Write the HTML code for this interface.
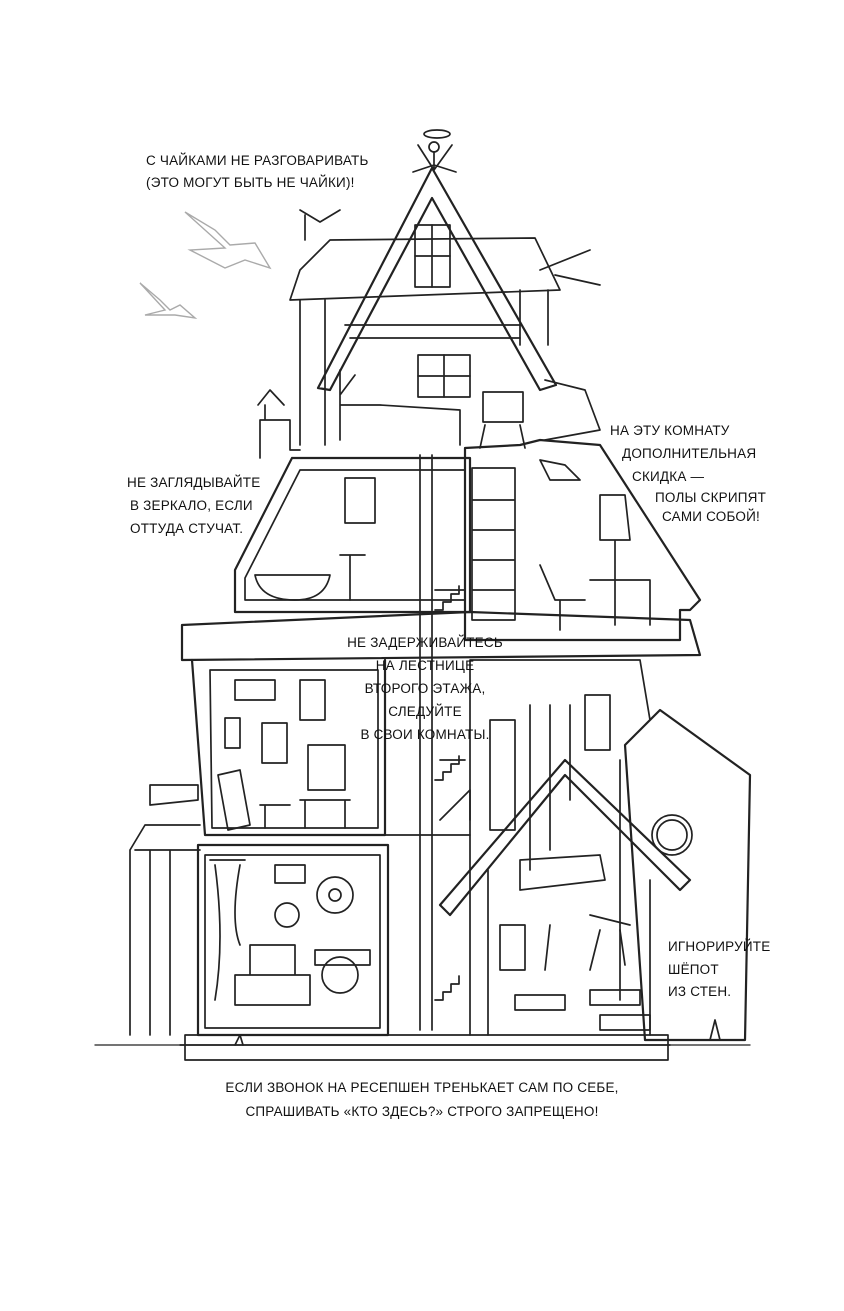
<!DOCTYPE html>
<html><head><meta charset="utf-8"><style>
html,body{margin:0;padding:0;background:#fff;}
svg{display:block}
text{font-family:"Liberation Sans",sans-serif;font-size:13.5px;fill:#111;letter-spacing:0.2px}
</style></head><body>
<svg width="844" height="1311" viewBox="0 0 844 1311" xmlns="http://www.w3.org/2000/svg">
<rect width="844" height="1311" fill="#fff"/>
<g fill="none" stroke="#222" stroke-width="1.7" stroke-linejoin="round" stroke-linecap="round">
<ellipse cx="437" cy="134" rx="13" ry="4"/><circle cx="434" cy="147" r="5"/>
<path d="M434 152 V170 M418 145 L434 170 L452 145 M413 172 L434 165 L456 172"/>
<path d="M330 240 L535 238 L560 290 L290 300 L300 270 Z"/>
<path d="M300 300 V445 M325 300 V445 M520 290 V345 M548 290 V345"/>
<path d="M305 215 V240 M300 210 L320 222 L340 210"/>
<path d="M540 270 L590 250 M555 275 L600 285"/>
<path d="M432 168 L318 388 L330 390 L432 198 L540 390 L556 385 Z" stroke-width="2.2"/>
<rect x="415" y="225" width="35" height="62"/><path d="M432 225 V287 M415 256 H450"/>
<path d="M345 325 H520 M350 338 H520"/>
<rect x="418" y="355" width="52" height="42"/><path d="M444 355 V397 M418 376 H470"/>
<rect x="483" y="392" width="40" height="30"/><path d="M485 425 L480 448 M520 425 L525 448"/>
<path d="M340 370 V440 M340 405 H380 L460 410 V445 M340 395 L355 375"/>
<path d="M545 380 L585 390 L600 430 L545 440"/>
<path d="M258 405 L270 390 L284 405 M265 405 V420 M260 420 H290 V450 H300 M260 420 V458"/>
<path d="M292 458 H470 V612 H235 V570 L292 458" stroke-width="2.2"/>
<path d="M300 470 H465 V600 H245 V578 Z"/>
<rect x="345" y="478" width="30" height="45"/>
<path d="M255 575 H330 Q325 600 295 600 Q260 600 255 575 M340 555 H365 M350 555 V600"/>
<path d="M465 448 L520 445 L540 440 L600 445 L700 600 L690 610 H680 V640 H465 Z" stroke-width="2.2"/>
<path d="M472 468 H515 V620 H472 Z M472 500 H515 M472 530 H515 M472 560 H515 M472 590 H515"/>
<path d="M540 460 L565 465 L580 480 H550 Z M600 495 H625 L630 540 H600 Z M615 540 V625 M590 580 H650 V625 M540 565 L555 600 H585 M560 600 V630"/>
<path d="M182 625 L470 612 L690 620 L700 655 L182 660 Z" stroke-width="2.2"/>
<path d="M192 660 L205 835 H385 V660" stroke-width="2.2"/>
<path d="M210 670 H378 V828 H212 Z"/>
<rect x="235" y="680" width="40" height="20"/><rect x="300" y="680" width="25" height="40"/><rect x="262" y="723" width="25" height="40"/><rect x="225" y="718" width="15" height="30"/>
<path d="M308 745 H345 V790 H308 Z M300 800 H350 M305 800 V828 M345 800 V828 M260 805 H290 M265 805 V828"/>
<path d="M218 775 L240 770 L250 825 L228 830 Z"/>
<path d="M420 455 V1030 M432 455 V1030"/>
<path d="M435 590 H465 M440 760 H465 M440 820 L470 790 L470 820 M385 835 H470"/>
<path d="M435 610 h8 v-8 h8 v-8 h8 v-8 M435 780 h8 v-8 h8 v-8 h8 v-8 M435 1000 h8 v-8 h8 v-8 h8 v-8"/>
<path d="M470 660 L640 660 L650 720 M470 660 V1035"/>
<rect x="585" y="695" width="25" height="55"/><rect x="490" y="720" width="25" height="110"/>
<path d="M530 705 V870 M550 705 V850 M570 705 V800 M620 760 V1000"/>
<path d="M625 745 L660 710 L750 775 L745 1040 L645 1040 Z" stroke-width="2.2"/>
<circle cx="672" cy="835" r="20"/><circle cx="672" cy="835" r="15"/>
<path d="M440 905 L565 760 L690 880 L680 890 L565 775 L450 915 Z" stroke-width="2.2"/>
<path d="M488 870 V1035 M650 880 V1035"/>
<path d="M520 860 L600 855 L605 880 L520 890 Z M500 925 H525 V970 H500 Z M590 915 L630 925 M600 930 L590 970 M620 930 L625 965 M550 925 L545 970"/>
<path d="M590 990 H640 V1005 H590 Z M600 1015 H650 V1030 H600 Z M515 995 H565 V1010 H515 Z"/>
<path d="M150 785 H198 V800 L150 805 Z M130 850 L145 825 H200 M130 850 V1035 M135 850 H200 M150 850 V1035 M170 850 V1035"/>
<path d="M198 845 H388 V1035 H198 Z" stroke-width="2.2"/>
<path d="M205 855 H380 V1028 H205 Z"/>
<path d="M210 860 H245 M215 865 Q225 940 215 1000 M240 865 Q230 920 240 945"/>
<rect x="275" y="865" width="30" height="18"/>
<circle cx="335" cy="895" r="18"/><circle cx="335" cy="895" r="6"/><circle cx="287" cy="915" r="12"/><circle cx="340" cy="975" r="18"/>
<path d="M250 945 H295 V975 H250 Z M235 975 H310 V1005 H235 Z M315 950 H370 V965 H315 Z"/>
<path d="M95 1045 H750" stroke-width="1.3"/>
<path d="M185 1035 H668 V1060 H185 Z M180 1045 H670"/>
<path d="M235 1045 L240 1035 L243 1045 M710 1040 L715 1020 L720 1040"/>
</g>
<g fill="none" stroke="#aaa" stroke-width="1.4">
<path d="M185 212 L215 230 L230 245 L255 243 L270 268 L245 260 L225 268 L190 250 L225 248 Z"/>
<path d="M140 283 L160 300 L170 310 L180 305 L195 318 L175 315 L145 315 L165 310 Z"/>
</g>
<text x="146" y="165">С ЧАЙКАМИ НЕ РАЗГОВАРИВАТЬ</text>
<text x="146" y="187">(ЭТО МОГУТ БЫТЬ НЕ ЧАЙКИ)!</text>
<text x="610" y="435">НА ЭТУ КОМНАТУ</text>
<text x="622" y="458">ДОПОЛНИТЕЛЬНАЯ</text>
<text x="632" y="481">СКИДКА —</text>
<text x="655" y="502">ПОЛЫ СКРИПЯТ</text>
<text x="662" y="521">САМИ СОБОЙ!</text>
<text x="127" y="487">НЕ ЗАГЛЯДЫВАЙТЕ</text>
<text x="130" y="510">В ЗЕРКАЛО, ЕСЛИ</text>
<text x="130" y="533">ОТТУДА СТУЧАТ.</text>
<text x="425" y="647" text-anchor="middle">НЕ ЗАДЕРЖИВАЙТЕСЬ</text>
<text x="425" y="670" text-anchor="middle">НА ЛЕСТНИЦЕ</text>
<text x="425" y="693" text-anchor="middle">ВТОРОГО ЭТАЖА,</text>
<text x="425" y="716" text-anchor="middle">СЛЕДУЙТЕ</text>
<text x="425" y="739" text-anchor="middle">В СВОИ КОМНАТЫ.</text>
<text x="668" y="951">ИГНОРИРУЙТЕ</text>
<text x="668" y="974">ШЁПОТ</text>
<text x="668" y="996">ИЗ СТЕН.</text>
<text x="422" y="1092" text-anchor="middle">ЕСЛИ ЗВОНОК НА РЕСЕПШЕН ТРЕНЬКАЕТ САМ ПО СЕБЕ,</text>
<text x="422" y="1116" text-anchor="middle">СПРАШИВАТЬ «КТО ЗДЕСЬ?» СТРОГО ЗАПРЕЩЕНО!</text>
</svg>
</body></html>
